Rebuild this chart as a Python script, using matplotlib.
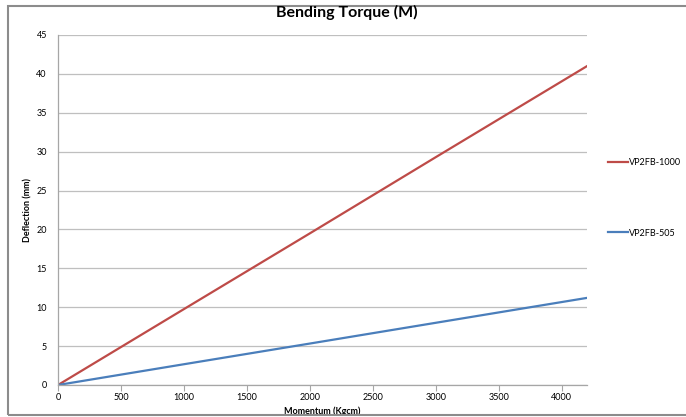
import matplotlib
matplotlib.use("Agg")
import matplotlib.pyplot as plt
from matplotlib.patches import Rectangle

plt.rcParams['font.family'] = ['Lato', 'DejaVu Sans']

# data
momentum = [0, 1000, 2000, 3000, 4200]
vp2fb_1000 = [0, 9.76, 19.5, 29.3, 41.0]
vp2fb_505 = [0, 2.67, 5.33, 8.0, 11.2]
x_ticks = [0, 500, 1000, 1500, 2000, 2500, 3000, 3500, 4000]
y_ticks = [0, 5, 10, 15, 20, 25, 30, 35, 40, 45]

RED = '#BE4B48'
BLUE = '#4A7EBB'
GRID = '#BFBFBF'

fig = plt.figure(figsize=(6.86, 4.17), dpi=100)
ax = fig.add_axes([58 / 686, 32 / 417, 529 / 686, 350 / 417])

# chart area border (left, top, bottom visible)
fig.patches.append(Rectangle((8 / 686, 2 / 417), 1.0, 409 / 417,
                             transform=fig.transFigure, fill=False,
                             edgecolor='#8C8C8C', linewidth=1.5, zorder=0))

l1, = ax.plot(momentum, vp2fb_1000, color=RED, linewidth=1.6)
l2, = ax.plot(momentum, vp2fb_505, color=BLUE, linewidth=1.6)

ax.set_xlim(0, 4200)
ax.set_ylim(0, 45)
ax.set_xticks(x_ticks)
ax.set_yticks(y_ticks)
ax.grid(axis='y', color=GRID, linewidth=0.9)
ax.set_axisbelow(True)

for side in ['top', 'right']:
    ax.spines[side].set_visible(False)
for side in ['left', 'bottom']:
    ax.spines[side].set_color('#A6A6A6')
    ax.spines[side].set_linewidth(0.9)

ax.tick_params(axis='x', direction='out', length=4, color='#A6A6A6', labelsize=6.5, pad=2)
ax.tick_params(axis='y', length=0, labelsize=6.5, pad=8)

ax.set_xlabel('Momentum (Kgcm)', fontsize=6.5, fontweight='bold', labelpad=3)
ax.set_ylabel('Deflection (mm)', fontsize=6.5, fontweight='bold', labelpad=3)

fig.text(0.505, 405 / 417, 'Bending Torque (M)', ha='center', va='center',
         fontsize=11.5, fontweight='bold')

# Excel-style legend entries spread vertically
leg1 = fig.legend(handles=[l1], labels=['VP2FB-1000'], loc='center left',
                  bbox_to_anchor=(600 / 686, 1 - 163 / 417), frameon=False,
                  fontsize=6.5, handlelength=2.2, handletextpad=0.1)
leg2 = fig.legend(handles=[l2], labels=['VP2FB-505'], loc='center left',
                  bbox_to_anchor=(600 / 686, 1 - 233 / 417), frameon=False,
                  fontsize=6.5, handlelength=2.2, handletextpad=0.1)

fig.savefig('out.png', dpi=100)
